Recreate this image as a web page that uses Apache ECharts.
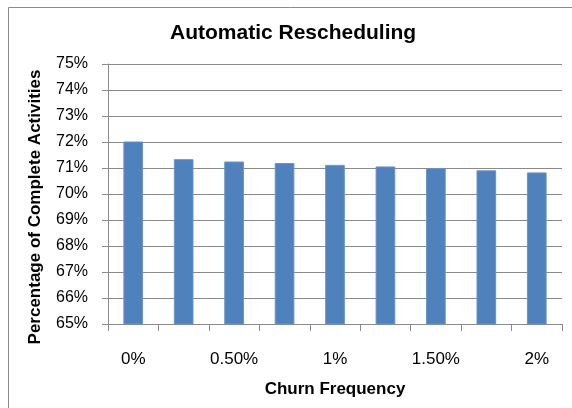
<!DOCTYPE html>
<html>
<head>
<meta charset="utf-8">
<script src="https://cdn.jsdelivr.net/npm/echarts@6/dist/echarts.min.js"></script>
<style>
  html, body { margin: 0; padding: 0; background: #fff; }
  #chart { width: 572px; height: 408px; }
</style>
</head>
<body>
<div id="chart"></div>
<script>
// churn frequency categories (only every other one is labelled)
const categories = ['0%', '0.25%', '0.50%', '0.75%', '1%', '1.25%', '1.50%', '1.75%', '2%'];
// percentage of complete activities
const completeValues = [72.02, 71.34, 71.25, 71.19, 71.12, 71.06, 70.99, 70.91, 70.83];
const yMin = 65;
const yMax = 75;
const yStep = 1;

const font = 'Liberation Sans, Arial, sans-serif';
const chart = echarts.init(document.getElementById('chart'));

const option = {
  animation: false,
  backgroundColor: '#fff',
  textStyle: { fontFamily: font, color: '#000' },
  title: {
    text: 'Automatic Rescheduling',
    left: 165,
    top: 18,
    textStyle: { fontFamily: font, fontSize: 21, fontWeight: 'bold', color: '#000' }
  },
  graphic: [
    {
      type: 'rect',
      shape: { x: 8.5, y: 7.5, width: 700, height: 600 },
      style: { fill: 'none', stroke: '#8a8a8a', lineWidth: 1 },
      silent: true
    }
  ],
  grid: {
    left: 108,
    right: 10,
    top: 64,
    bottom: 84
  },
  xAxis: {
    type: 'category',
    data: categories,
    name: 'Churn Frequency',
    nameLocation: 'middle',
    nameGap: 57,
    nameTextStyle: { fontFamily: font, fontSize: 17, fontWeight: 'bold', color: '#000' },
    axisLine: { lineStyle: { color: '#8a8a8a', width: 1 } },
    axisTick: { show: true, interval: 0, length: 7, lineStyle: { color: '#8a8a8a' } },
    axisLabel: {
      interval: 1,
      margin: 27,
      fontSize: 17,
      color: '#000',
      fontFamily: font
    }
  },
  yAxis: {
    type: 'value',
    min: yMin,
    max: yMax,
    interval: yStep,
    name: 'Percentage of Complete Activities',
    nameLocation: 'middle',
    nameGap: 64,
    nameTextStyle: {
      fontFamily: font,
      fontSize: 17,
      fontWeight: 'bold',
      color: '#000',
      padding: [0, 26, 0, 0]
    },
    axisLine: { show: true, lineStyle: { color: '#8a8a8a', width: 1 } },
    axisTick: { show: true, length: 6, lineStyle: { color: '#8a8a8a' } },
    splitLine: { show: true, lineStyle: { color: '#8a8a8a', width: 1 } },
    axisLabel: {
      margin: 20,
      fontSize: 16,
      color: '#000',
      fontFamily: font,
      formatter: '{value}%'
    }
  },
  series: [
    {
      name: 'Complete Activities',
      type: 'bar',
      data: completeValues,
      barWidth: '39%',
      itemStyle: { color: '#4f81bd', borderColor: '#6a93c6', borderWidth: 1 }
    }
  ]
};

chart.setOption(option);
</script>
</body>
</html>
